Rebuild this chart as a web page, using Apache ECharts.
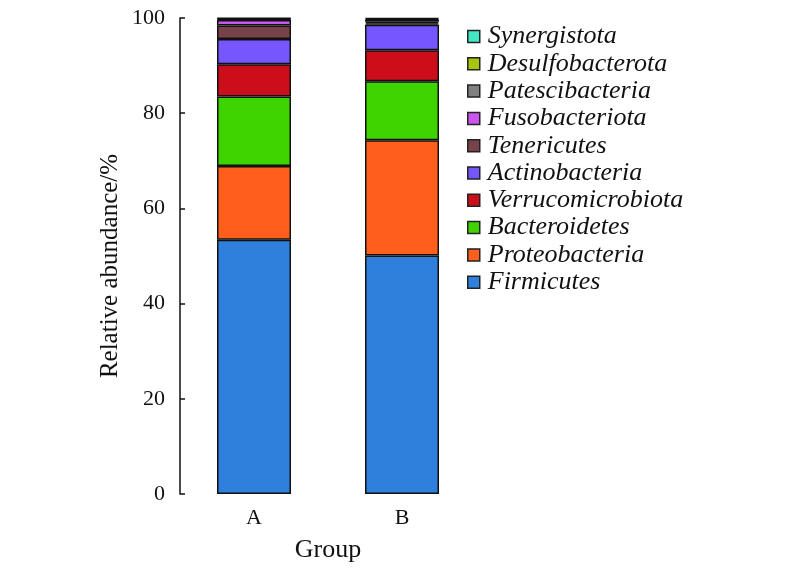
<!DOCTYPE html>
<html>
<head>
<meta charset="utf-8">
<script src="https://cdn.jsdelivr.net/npm/echarts@6/dist/echarts.min.js"></script>
<style>html,body{margin:0;padding:0;background:#fff}#c{width:794px;height:569px}</style>
</head>
<body>
<div id="c"></div>
<script>
var categories = ['A', 'B'];
var seriesNames = ['Firmicutes', 'Proteobacteria', 'Bacteroidetes', 'Verrucomicrobiota', 'Actinobacteria', 'Tenericutes', 'Fusobacteriota', 'Patescibacteria', 'Desulfobacterota', 'Synergistota'];
var Firmicutes = [53.4, 50.1];
var Proteobacteria = [15.5, 24.2];
var Bacteroidetes = [14.6, 12.4];
var Verrucomicrobiota = [6.8, 6.5];
var Actinobacteria = [5.3, 5.4];
var Tenericutes = [2.8, 0.3];
var Fusobacteriota = [1.2, 0.3];
var Patescibacteria = [0.2, 0.4];
var Desulfobacterota = [0.1, 0.2];
var Synergistota = [0.1, 0.2];
var seriesValues = [Firmicutes, Proteobacteria, Bacteroidetes, Verrucomicrobiota, Actinobacteria, Tenericutes, Fusobacteriota, Patescibacteria, Desulfobacterota, Synergistota];
var colors = ['#2E80DC', '#FF5E1C', '#3FD300', '#CC0E1B', '#7657FF', '#774249', '#CC55EE', '#808080', '#A6C40C', '#42E8C2'];
var yTicks = [0, 20, 40, 60, 80, 100];

var font = '"Liberation Serif", "DejaVu Serif", serif';
var chart = echarts.init(document.getElementById('c'), null, {renderer: 'canvas'});
var series = seriesNames.map(function (n, i) {
  return {
    name: n, type: 'bar', stack: 'total', data: seriesValues[i], barWidth: '50%',
    itemStyle: {color: colors[i], borderColor: '#111', borderWidth: 1.5}
  };
});
chart.setOption({
  animation: false,
  color: colors,
  grid: {left: 180, top: 18, width: 296, bottom: 75},
  legend: {
    orient: 'vertical', left: 467, top: 23, padding: 0,
    data: seriesNames.slice().reverse(),
    icon: 'rect', itemWidth: 12, itemHeight: 12, itemGap: 0.3,
    itemStyle: {borderColor: '#222', borderWidth: 1.5},
    textStyle: {fontFamily: font, fontStyle: 'italic', fontSize: 26, lineHeight: 27, color: '#111', padding: [0, 0, 0, 3]}
  },
  xAxis: {
    type: 'category', data: categories,
    axisLine: {show: false}, axisTick: {show: false},
    axisLabel: {fontFamily: font, fontSize: 22, color: '#111', margin: 13},
    name: 'Group', nameLocation: 'middle', nameGap: 43,
    nameTextStyle: {fontFamily: font, fontSize: 26, color: '#111'}
  },
  yAxis: {
    type: 'value', min: 0, max: 100, interval: 20,
    axisLine: {show: true, lineStyle: {color: '#111', width: 1.5}},
    axisTick: {show: true, inside: true, length: 5, lineStyle: {color: '#111', width: 1.5}},
    splitLine: {show: false},
    axisLabel: {fontFamily: font, fontSize: 22, color: '#111', margin: 15,
      formatter: function (v) { return yTicks.indexOf(v) >= 0 ? String(v) : ''; }},
    name: 'Relative abundance/%', nameLocation: 'middle', nameGap: 57,
    nameTextStyle: {fontFamily: font, fontSize: 25, color: '#111', padding: [0, 20, 0, 0]}
  },
  series: series
});
</script>
</body>
</html>
